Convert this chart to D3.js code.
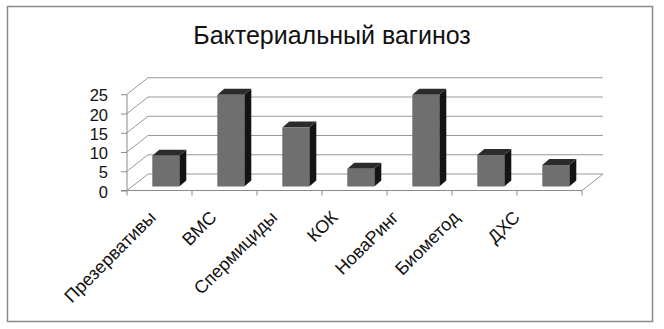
<!DOCTYPE html>
<html>
<head>
<meta charset="utf-8">
<script src="https://cdn.jsdelivr.net/npm/d3@7"></script>
<style>
  html, body { margin: 0; padding: 0; background: #fff; }
  svg { display: block; font-family: "Liberation Sans", Arial, sans-serif; }
</style>
</head>
<body>
<svg id="chart" width="664" height="329"></svg>
<script>
// Chart data
const title = "Бактериальный вагиноз";
const categories = ["Презервативы", "ВМС", "Спермициды", "КОК", "НоваРинг", "Биометод", "ДХС"];
const values = [8.0, 23.8, 15.3, 4.6, 23.8, 8.2, 5.6];
const yTicks = [0, 5, 10, 15, 20, 25];

const svg = d3.select("#chart");

// Plot geometry (front plane of the pseudo-3D box)
const frontLeft = 127, frontRight = 582;
const y0 = 190.5, yTop = 94.25;
const depth = { dx: 21, dy: -16.5 };     // floor / wall depth
const barOffset = { dx: 6.3, dy: -4 };   // bar front face inside the box
const barDepth = { dx: 7, dy: -6 };      // bar thickness
const barW = 27;

const x = d3.scaleBand().domain(categories).range([frontLeft, frontRight]).padding(0);
const y = d3.scaleLinear().domain([0, 25]).range([y0, yTop]);
// category labels sit on a slightly narrower, perspective-shifted row
const xLabel = d3.scalePoint().domain(categories).range([157, 521]);

// Outer frame
svg.append("rect")
  .attr("x", 7.5).attr("y", 6.5).attr("width", 645).attr("height", 315)
  .attr("fill", "none").attr("stroke", "#8a8a8a").attr("stroke-width", 1.5);

// Title
svg.append("text")
  .attr("x", 332).attr("y", 44)
  .attr("text-anchor", "middle")
  .attr("font-size", 25)
  .attr("fill", "#111")
  .text(title);

const grid = svg.append("g").attr("stroke", "#999").attr("stroke-width", 1).attr("fill", "none");

// Back wall gridlines and side-wall diagonals
yTicks.forEach(v => {
  const yy = y(v);
  grid.append("line")
    .attr("x1", frontLeft + depth.dx).attr("y1", yy + depth.dy)
    .attr("x2", frontRight + depth.dx).attr("y2", yy + depth.dy);
  grid.append("line")
    .attr("x1", frontLeft).attr("y1", yy)
    .attr("x2", frontLeft + depth.dx).attr("y2", yy + depth.dy);
});
// Right edge of the floor
grid.append("line")
  .attr("x1", frontRight).attr("y1", y0)
  .attr("x2", frontRight + depth.dx).attr("y2", y0 + depth.dy);

// Bars: side, top and front faces
const bars = svg.append("g");
categories.forEach((c, i) => {
  const v = values[i];
  const fx = x(c) + x.bandwidth() / 2 - barW / 2 + barOffset.dx;
  const fyTop = y(v) + barOffset.dy;
  const fyBot = y(0) + barOffset.dy;
  const g = bars.append("g");
  // side face
  g.append("path")
    .attr("d", `M${fx + barW},${fyTop} L${fx + barW + barDepth.dx},${fyTop + barDepth.dy} L${fx + barW + barDepth.dx},${fyBot + barDepth.dy} L${fx + barW},${fyBot} Z`)
    .attr("fill", "#141414");
  // top face
  g.append("path")
    .attr("d", `M${fx},${fyTop} L${fx + barDepth.dx},${fyTop + barDepth.dy} L${fx + barW + barDepth.dx},${fyTop + barDepth.dy} L${fx + barW},${fyTop} Z`)
    .attr("fill", "#2b2b2b");
  // front face
  g.append("rect")
    .attr("x", fx).attr("y", fyTop)
    .attr("width", barW).attr("height", fyBot - fyTop)
    .attr("fill", "#6f6f6f");
});

// Y axis
const yAxis = svg.append("g")
  .attr("transform", `translate(${frontLeft},0)`)
  .call(d3.axisLeft(y).tickValues(yTicks).tickSize(6).tickPadding(13).tickFormat(d3.format("d")));
yAxis.select(".domain").attr("stroke", "#8a8a8a").attr("d", `M-6,${y0}H0V${yTop}`);
yAxis.selectAll(".tick line").attr("stroke", "#8a8a8a");
yAxis.selectAll(".tick text")
  .attr("font-size", 16.5).attr("font-family", "Liberation Sans, Arial, sans-serif")
  .attr("fill", "#111").attr("dy", "0.4em");

// X axis (front floor edge) with ticks at category boundaries
const xAxis = svg.append("g").attr("transform", `translate(0,${y0})`);
xAxis.append("line")
  .attr("x1", frontLeft).attr("x2", frontRight)
  .attr("stroke", "#8a8a8a");
const bounds = categories.map(c => x(c)).concat([frontRight]);
xAxis.selectAll("line.tk").data(bounds).join("line")
  .attr("class", "tk")
  .attr("x1", d => d).attr("x2", d => d)
  .attr("y1", 0).attr("y2", 5)
  .attr("stroke", "#8a8a8a");
xAxis.selectAll("text").data(categories).join("text")
  .attr("transform", d => `translate(${xLabel(d)},${28}) rotate(-45)`)
  .attr("text-anchor", "end")
  .attr("font-size", 18)
  .attr("fill", "#111")
  .text(d => d);
</script>
</body>
</html>
